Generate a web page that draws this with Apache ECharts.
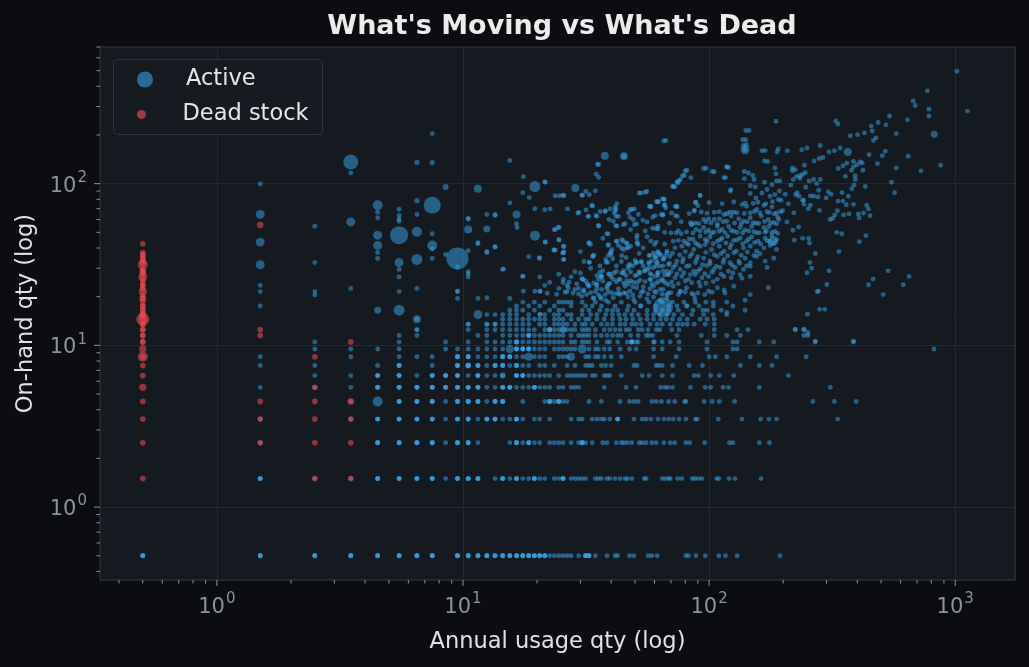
<!DOCTYPE html>
<html>
 <head>
  <meta charset="utf-8" />
  <title>What's Moving vs What's Dead</title>
  <script src="https://cdn.jsdelivr.net/npm/echarts@6/dist/echarts.min.js"></script>
  <style>
   html, body { margin: 0; padding: 0; background: #0b0d11; }
  </style>
 </head>
 <body>
  <div id="main" style="width: 1029px;height:667px;"></div>
  <script type="text/javascript">

    // axis extents (log scale, as in the source plot)
    var X_MIN = 0.335, X_MAX = 1750;
    var Y_MIN = 0.354, Y_MAX = 700;

    // quantised rows: on-hand qty and the usage values seen on each row
    var rowY = [0.5, 1.5, 2.5, 3.5, 4.5, 5.5, 6.5, 7.5, 8.5, 9.5, 10.5, 11.5, 12.5, 13.5, 14.5, 15.5, 16.5, 17.5, 18.5];
    var rowX = [
      [0.5,1.5,2.5,3.5,4.5,5.5,6.5,7.5,9.5,10.5,11.5,12.5,13.5,14.5,15.5,16.5,17.5,18.5,19.5,20.5,21.5,22.5,23.5,24.5,25.5,26.5,27.5,29.5,31.5,32.5,34.5,38.5,41.5,42.5,47.5,49.5,56.5,58.5,61.5,80.5,82.5,88.5,96.5,109.5,116.5,130,194],
      [1.5,2.5,3.5,4.5,5.5,6.5,7.5,8.5,9.5,10.5,11.5,13.5,14.5,15.5,16.5,17.5,18.5,19.5,20.5,21.5,23.5,24.5,25.5,27.5,28.5,29.5,30.5,31.5,34.5,35.5,36.5,38.5,39.5,41.5,43.5,45.5,46.5,48.5,54.5,55.5,64.5,66.5,68.5,69.5,74.5,77.5,85.5,87.5,90.5,93.5,107.5,109.5,120.5,127.5,162.5],
      [1.5,4.5,5.5,6.5,7.5,8.5,9.5,10.5,11.5,15.5,16.5,17.5,18.5,19.5,20.5,22.5,23.5,24.5,25.5,27.5,29.5,30.5,31.5,33.5,37,38.5,42,44,45,46.5,48.5,52,53.5,55.5,58.5,61,65.5,69.5,72.5,80.5,83.5,96,121,125,160,176],
      [1.5,3.5,4.5,5.5,6.5,7.5,8.5,9.5,10.5,11.5,12.5,13.5,14.5,15.5,16.5,17.5,19.5,20.5,22.5,27.5,29.5,30.5,33.5,35,36.5,37.5,39.5,42.5,49.5,53.5,55.5,58,62,65.5,68.5,71.5,75.5,80.5,88,89.5,109,136,162,175,188,333],
      [3.5,5.5,6.5,7.5,8.5,9.5,10.5,11.5,12.5,13.5,14.5,17.5,21.5,22.5,23.5,24.5,25.5,26.5,32.5,36.5,43.5,47.5,49.5,51.5,58.5,61,64,68.5,72.5,79.5,80.5,95.5,103,110,127,264,323,396],
      [1.5,2.5,3.5,4.5,5.5,6.5,7.5,8.5,9.5,10.5,11.5,12.5,13.5,14.5,15.5,16.5,17.5,18.5,19.5,20.5,21.5,22.5,24.5,25.5,27.5,28.5,29.5,37.5,46,50.5,63.5,66,68,71,84,96.5,101.5,114,120,160,311],
      [2.5,3.5,4.5,5.5,6.5,7.5,8.5,9.5,10.5,11.5,12.5,13.5,14.5,16.5,17.5,18.5,19.5,20.5,21.5,22.5,24.5,26.5,27.5,28.5,29.5,30.5,31.5,33.5,34.5,37.5,38.5,39.5,44,53.5,57,64.5,71,87,90.5,101.5,110,126,210],
      [1.5,2.5,4.5,5.5,7.5,9.5,10.5,11.5,12.5,13.5,14.5,15.5,16.5,17.5,18.5,20.5,21.5,23.5,26.5,28.5,31.5,32.5,33.5,36.5,38,40,49.5,51,61,62.5,64.5,71,83,94,134,160,180],
      [1.5,3.5,5.5,6.5,7.5,9.5,10.5,11.5,12.5,13.5,14.5,15.5,16.5,17.5,19.5,20.5,21.5,24.5,25.5,26.5,31.5,32.5,34.5,35.5,37.5,40,44,59.5,73.5,100,106,118,147,188,248],
      [2.5,3.5,4.5,5.5,8.5,9.5,10.5,11.5,12.5,13.5,14.5,16.5,17.5,18.5,19.5,20.5,21.5,23.5,24.5,25.5,26.5,27.5,28.5,32.5,34.5,35.5,37.5,39.5,43.5,47.5,50.5,59.5,64.5,75.5,98,125,130,820],
      [2.5,5.5,8.5,10.5,12.5,13.5,14.5,15.5,16.5,17.5,18.5,19.5,20.5,21.5,22.5,23.5,24.5,25.5,27.5,28.5,30.5,31.5,32.5,35,38.5,39.5,42.5,46.5,48.5,48.5,50.5,51.5,59.5,60,64.5,69.5,75.5,98,125,130,160,183,270,386],
      [5.5,6.5,11.5,12.5,14.5,15.5,16.5,17.5,18.5,19.5,20.5,21.5,22.5,23.5,24.5,25.5,27.5,29.5,30.5,31.5,32.5,34.5,36.5,38.5,40.5,42.5,44,48,51.5,55.5,57,59,74,93,105,118,134,243,252],
      [6.5,10.5,12.5,13.5,14.5,15.5,16.5,17.5,18.5,19.5,21.5,22.5,23.5,24.5,25.5,26.5,27.5,28.5,30.5,31.5,32.5,34.5,37.5,39.5,41.5,43.5,46,47.5,51.5,53.5,56.5,61,63,70.5,75.5,105,130,144,224,243],
      [10.5,12.5,13.5,14.5,15.5,16.5,17.5,18.5,20.5,21.5,23.5,24.5,25.5,26.5,28.5,30.5,31.5,33.5,36.5,38.5,40.5,43.5,45.5,48.5,50.5,53,57.5,61.5,64.5,69.5,74.5,78,81.5,87,96.5,105],
      [6.5,14.5,15.5,16.5,17.5,18.5,19.5,20.5,21.5,23.5,24.5,25.5,27.5,29.5,31.5,32.5,35,37.5,40.5,43.5,46,49,52.5,56,59.5,63.5,67,71,76,81.5,92,98,105],
      [14.5,15.5,16.5,18.5,20.5,21.5,23.5,24.5,26.5,27.5,30.5,33,35,38,40.5,43,45.5,48.5,51.5,56,59.5,63,67.5,72,78,85,95,104,118],
      [15.5,17.5,19.5,22.5,24.5,25.5,30.5,32.5,36,38.5,40.5,42.5,46.5,49.5,56,60.5,64.5,68.5,75,86,98,112,140],
      [16.5,18.5,20.5,23.5,27.5,31.5,33.5,36.5,41.5,47,52.5,53,60.5,68.5,74,81,91,104,125],
      [17.5,19.5,21.5,24.5,25.5,26.5,27.5,30.5,34.5,39,44,50,57,64.5,71,79,88,97,118]
    ];

    // positions holding several active items (drawn brighter); each entry is one more item
    var activeStacked = [
      [0.5,0.5],[1.5,0.5],[2.5,0.5],[3.5,0.5],[4.5,0.5],[5.5,0.5],[6.5,0.5],[7.5,0.5],[9.5,0.5],[10.5,0.5],[11.5,0.5],[12.5,0.5],[13.5,0.5],
      [14.5,0.5],[15.5,0.5],[16.5,0.5],[17.5,0.5],[18.5,0.5],[19.5,0.5],[20.5,0.5],[21.5,0.5],[31.5,0.5],[32.5,0.5],
      [1.5,1.5],[4.5,1.5],[5.5,1.5],[6.5,1.5],[7.5,1.5],[9.5,1.5],[10.5,1.5],[11.5,1.5],[14.5,1.5],[16.5,1.5],[19.5,1.5],[25.5,1.5],
      [4.5,2.5],[5.5,2.5],[6.5,2.5],[7.5,2.5],[9.5,2.5],[10.5,2.5],[16.5,2.5],[18.5,2.5],[30.5,2.5],
      [4.5,3.5],[5.5,3.5],[6.5,3.5],[7.5,3.5],[9.5,3.5],[10.5,3.5],[12.5,3.5],[13.5,3.5],[16.5,3.5],[42.5,3.5],
      [5.5,4.5],[6.5,4.5],[7.5,4.5],[9.5,4.5],[10.5,4.5],[11.5,4.5],[13.5,4.5],[14.5,4.5],[22.5,4.5],[24.5,4.5],
      [4.5,5.5],[5.5,5.5],[6.5,5.5],[7.5,5.5],[8.5,5.5],[9.5,5.5],[10.5,5.5],[11.5,5.5],[14.5,5.5],[15.5,5.5],[19.5,5.5],
      [4.5,6.5],[5.5,6.5],[7.5,6.5],[8.5,6.5],[9.5,6.5],[11.5,6.5],[16.5,6.5],[17.5,6.5],
      [5.5,7.5],[9.5,7.5],[10.5,7.5],[11.5,7.5],[13.5,7.5],[14.5,7.5],[16.5,7.5],
      [9.5,8.5],[10.5,8.5],[14.5,8.5],[15.5,8.5],[16.5,9.5],[17.5,9.5],[18.5,9.5],[48.5,10.5],[16.5,10.5],[18.5,11.5],[22.5,12.5]
    ];
    var stackDepth = 3;

    // active items above the rows: [usage, on-hand]
    var activeLeft = [
      [1.5,99.5],[1.5,23.5],[1.5,21.5],[1.5,17.5],[2.5,54.5],[2.5,32.5],[2.5,21.5],[2.5,20.5],
      [3.5,116.5],[3.5,22.5],[4.5,66.5],[4.5,61.5],[4.5,37.5],[4.5,34.5],
      [5.5,69.5],[5.5,63.5],[5.5,60.5],[5.5,58.5],[5.5,29.5],[5.5,26.5],[5.5,21.5],
      [6.5,64.5],[6.5,22.5],[6.5,12.5],[7.5,204],[7.5,49],[7.5,39.5],[7.5,34.5],[8.5,36.5],
      [9.5,30.5],[9.5,21.5],[9.5,19.5],[10.5,60.5],[10.5,38.5],[10.5,28.5],[10.5,26.5],[10.5,13.5],
      [11.5,42.5],[11.5,19.5],[12.5,64.5],[12.5,37.5],[12.5,15.5],[12.5,13.5],
      [13.5,64.5],[13.5,40.5],[13.5,15.5],[13.5,13.5],[14.5,29.5],[15.5,76],[15.5,19.5],[16.5,56.5],[16.5,16.5]
    ];

    var activeMid = [
      [15.5,139],[17.6,110.5],[21.6,102],[17.5,88],[18.6,82],[19.6,70],[21.5,69],[22.6,69.8],[23.7,84.2],[24.7,84.2],
      [25.7,84.2],[26.6,69.8],[30.6,84.7],[31.6,89.4],[32.6,85.3],[34.5,90.3],[34.8,114.5],[35.6,109.3],[35.6,131.5],
      [33.6,72.7],[35,62.8],[32.4,62.8],[31.6,68.8],[29.6,66.3],[10.5,60.9],[13.5,63.5],[16.6,53.5],[21.6,43.6],
      [20.5,34.6],[18.5,35.4],[17.5,26.7],[14.6,29.7],[13.5,40.9],[12.5,37.9],[11.5,43.1],[10.5,27.7],[9.5,21.6],
      [12.5,19.7],[17.6,21.6],[20.6,15.6],[20.5,21.6],[23.7,52.1],[24.6,53.5],[24.6,44.8],[25.7,40.9],[25.7,37.9],
      [25.7,34],[30.6,25.6],[33.6,35.4],[32.6,32.7],[36.6,26.7],[38.9,48.9],[38.9,41.5],[39.2,60],[40.3,39.2],
      [41.6,67.9],[42.2,75.3],[41.8,70],[41.8,55],[40,36.5],[38.2,32.6],[37.9,68.1],[35.6,54.7],[34.7,63.4],[32.2,62.8],
      [23.5,52],[24.4,53.8],[25.4,37.3],[23.5,39.1],[32.4,43],[35.5,55.1],[38.4,49.1],[42.2,44],[44.2,45.1],
      [46,43],[46.3,40.1],[50.8,46.2],[51.1,42.6],[41.2,65.9],[42.8,62.8],[45.6,56.6],[47,65.9],[48.6,69.2],[49.2,60],
      [50.8,56.4],[29.3,65.9],[33.4,73.2],[36.1,67.2],[21.5,102.6],[25.5,84.7],[30.4,84.7],[35.2,132],
      [17.5,26.8],[20.4,34.8],[23.4,38.7],[30.4,25.8],[34.9,23.7],[36.3,26.6],[19.6,21.6],[26.5,21.5],
      [29.5,22.5],[21.5,23.5],[25.5,24.5],[27.5,26.5],[24.5,22.5],[32.5,23.5],[34.5,21.5],[35.5,25.5],[36.5,19.5],
      [38.5,22.5],[39.5,27.5],[20.5,26.5],[22.5,24.5],[24.5,27.5],[26.5,23.5],[28.5,28.5],[76.5,21.5],[81.5,17.5],
      [87.5,19.5],[94.5,16.5],[104,18.5],[115,22],[118,16],[136,26],[140,19],[45.1,147.6],[65.4,184],[66.8,185]
    ];

    // dense core
    var activeCore = [
      [21.6,43.5],[24.5,45.1],[25.6,41],[23.7,38.8],[32.6,43],[39,42],[42.8,41.5],[44.7,44],[46.5,42.6],[46.9,40.1],
      [51.5,42],[25.6,37.3],[33.8,35.8],[39.6,37.3],[44.2,35.8],[40.6,34.3],[25.6,34],[32.6,32.6],[38.7,32.6],[47.7,31.6],
      [50.8,32.6],[53.2,32.6],[56.8,32.6],[60.4,35.8],[63.2,36.5],[67.4,37.3],[61.8,32.4],[65.5,34.3],[68.3,31.6],
      [36.6,26.7],[30.8,25.6],[44.2,28],[46,27],[52.4,28],[55.8,29.5],[58.3,27.4],[61.8,28],[65,28.7],[68.3,27.4],
      [25.6,25.6],[40.8,25.6],[43.5,25.6],[46.3,25],[49.3,24.6],[52.4,25.3],[57.5,25.6],[61,24.3],[65,25],[68.3,23.8],
      [26.8,22.7],[28.5,22.2],[30.8,21.6],[32.4,23.2],[35,23.8],[36.6,22.2],[38.5,23.2],[40.3,21.1],[42.8,22.4],[45.6,23.2],
      [47.7,21.6],[50.8,22.7],[54,21.6],[57.5,22.4],[61,21.3],[65,22.2],[68.3,21.1],[20.6,21.6],[28,21.1],[30.4,20.1],
      [31.8,20.6],[33.8,19.7],[36.1,19.9],[37.8,20.6],[40.8,19.7],[43.5,20.6],[46.9,19.9],[49.3,19.2],[52.4,20.1],
      [55.8,19.4],[59.4,19.9],[63.2,19],[67.4,19.7],
      [72.5,95.5],[75.5,104],[122,90],[147,97],[154,95.5],[168,102],[180,98.5],[188,104],
      [62,77.5],[65.5,80.5],[66,74.2],[92,84.6],[88,76.5],[147,87],[155,81.5],[164,87.5],[172,92],[177,83.5],[185,85.6],[191,79.7],
      [58,72.5],[74,72.5],[87,67.7],[105,66.5],[115,64.4],[121.6,66.5],[130,66],[136,74.2],[142,72.5],[147,66],[151,75.5],
      [156,69.2],[167,73.5],[172,67],[180,71.8],[188,66],
      [65,64.4],[73,63.4],[88,57],[95,60],[99.5,60.6],[105,60],[110,60.6],[118,58.5],[123,63],[132,60.6],[138,58.5],
      [147,61.6],[155,57],[163,63],[174,60],[183,57.6],[192,60],
      [62,52.6],[70,49.6],[73.5,49.6],[77,49],[88.5,52.1],[95,53.6],[99.5,51.6],[104.5,50.1],[108,54.3],[113,52.1],
      [120,54.3],[126,50.7],[133.7,53.6],[140,51.6],[149,54.3],[156,49.6],[167,53.6],[175,54.3],[185,50.7],
      [71.5,44],[79,44],[83,45.5],[88,43],[92,47.3],[96.4,45.1],[100.8,46.8],[108,44],[113,46],[119,47.3],[126,44.6],
      [133.7,46],[142,44],[149,46.8],[158,44],[169,46],[180,47.6],[188,45.1],
      [59.4,37.3],[63.2,36.5],[67.4,38.2],[72.7,40.1],[77.5,41],[82.5,42],[86.6,39.2],[92,41],[96.4,42],[102.5,39.2],
      [110,41],[115,38.2],[121.6,40.1],[129,38.2],[138,40.1],[147,41],[156,38.2],[167,40.1],[177,41.5],[188,39.2],
      [58.3,33.2],[61,34.6],[65,34],[69.3,35.5],[74,33.2],[78.5,34.3],[83.6,35.5],[89,34],[95,34.6],[100.8,33.2],
      [108,35.5],[115,34],[121.6,32.4],[132,33.2],[140,34.6],[147,32.4],[156,35.5],[169,33.2],[183,34.6],
      [59.4,30.3],[63.2,30.8],[67.4,28.7],[71.5,30.3],[76.2,29.5],[81,30.8],[86.6,28.7],[92,29.7],[97.8,31.2],[104.5,29.5],
      [110.8,30.3],[120,28.7],[127.5,30.3],[138,29.5],[147,30.8],[172,30.3],
      [60.4,26.7],[64.4,25.6],[68.3,27.4],[72.7,26.2],[77.5,26.7],[82.5,25.6],[87.8,27.4],[93.5,26.2],[99.5,26.7],
      [108,25.6],[115,26.7],[123,26.2],[133.7,27.4],[147,26.7],
      [59.4,23.2],[63.2,22.2],[67.4,20.6],[71.5,23.2],[76.2,21.6],[81,22.7],[86.6,20.6],[92,23.2],[99.5,21.6],[108,22.7],
      [116,21.1],[126,23.2],[147,20.6],[174,22.7]
    ];

    // further items filling the core band between the ones above
    var activeCoreFill = [
      [61,43.5],[66,42.2],[75,44.6],[81,42.8],[86,45.3],[90,42],[98,44],[104,42.5],[111,45],[117,43],[123,42],[130,44.8],
      [137,42.6],[145,45.5],[153,43.2],[162,42.4],[172,44.3],[183,42.9],
      [57.5,36],[62,37.5],[66,35.6],[71,37.1],[76,36.2],[80,38],[85,36.8],[90,35.4],[97,37.6],[105,36.3],[112,37],
      [119,35.8],[126,37.4],[135,36.1],[143,37.8],[152,35.9],[161,36.9],
      [47,31.2],[50.5,32.3],[54,30.9],[57,31.8],[61,32.6],[65,31],[69,32.1],[73,31.4],[78,32.8],[83,31.1],[88,32.4],
      [94,31.5],[101,32],[107,30.8],[114,32.5],[124,31.3],[133,32.2],[142,31],
      [36,28.3],[39,27.6],[42,28.6],[45,27.9],[48,28.4],[51,27.3],[54.5,28.8],[57.5,27.8],[62,28.2],[66,27.2],[70,28.5],
      [74,27.6],[79,28.1],[84,27.4],[90,28.7],[96,27.7],[103,28.3],[112,27.5],[125,28],
      [27,24.6],[29,24],[31.5,24.9],[34,24.3],[37,25],[39.5,24.1],[42,24.7],[45,24.2],[48,25.1],[51,24.4],[55,24.8],
      [58.5,24],[62.5,24.9],[66.5,24.3],[70.5,24.7],[75,24.1],[80,25],[85,24.4],[91,24.6],[97,24.2],[104,24.8],
      [22,21],[24,20.7],[26,21.3],[29.5,20.8],[33,21.2],[35.5,20.6],[39,21.4],[42,20.9],[45,21.1],[49,20.5],[53,21.3],
      [56.5,20.8],[60,21.5],[64.5,20.7],[70,21.2],[75,20.6],[80,21.4],[85,20.9],[90,21.1],[96,20.6],[103,21.3],
      [66,50],[75,51.2],[81,50.3],[86,49.6],[92,51],[97,50.2],[102,49.4],[110,50.8],[116,49.8],[123,51.3],[130,50.1],
      [137,49.5],[145,51],[152,50.4],[160,49.7],[171,51.1],[180,50],[190,49.3],
      [69,57],[77,58.2],[84,57.4],[91,56.6],[97,58],[102,57.2],[108,56.4],[114,58.4],[127,57.1],[135,56.5],[143,58.1],
      [151,57.3],[159,56.7],[168,58.3],[178,57],[188,56.4],
      [83,65.3],[93,66.8],[98,65.6],[110,67],[118,65.1],[126,66.6],[139,65.4],[153,67.2],[161,65.8],[176,66.4],[184,65],[195,67],
      [100,76.3],[113,75.2],[126,77],[140,75.6],[158,76.8],[170,75],[181,77.4]
    ];

    var activeBand = [
      [30,28],[31,33],[32,24],[33,30],[34,36],[35,27],[36,31],[31,22],[34,19.5],[30,38],[33,42],[35,22.5],
      [37,29],[38,34],[39,24],[40,38],[41,28],[42,44],[43,21],[44,33],[38,19],[40,26.5],[42,31],[44,40],[37,46],[39,36],[43,25.5],
      [45,29],[46,35],[47,24],[48,41],[49,31],[50,27],[51,48],[52,37],[46,21],[48,52],[50,33.5],[45,39],[47,30],[49,23],[51,43.5],[52,28.5],
      [53,33],[54,40],[55,29],[56,47],[57,36],[58,25.5],[59,53],[60,42],[61,31],[62,38],[54,23],[56,58],[58,44],[60,35],[62,27],[55,51],[57,30],[59,62],
      [204,86],[210,75],[215,98],[221,66],[228,88],[234,112],[240,79],[247,95],[253,70],[258,84],[207,58],[218,120],[231,54],[244,130],[255,104],
      [196,79],[199,68],[193,90],[190,62],[187,115],[185,125],[194,104],[176,44],[169,50],
      [37.8,67.2],[39.6,69.8],[41.5,71.8],[41.9,62.8],[47.8,69.2],[49.7,69.8],[47.8,61.9],[49.7,55.8],[51.6,64.4],[53.8,59.4],[44.8,55.8],[40.8,58.5],[42.2,54.6],
      [52.9,87.6],[55.8,89.4],[57.9,71.8],[62.2,77.1],[65.8,79.7],[65.8,73.2],[73.9,71.8],[88.3,76.7],[91.9,84.4],[87.1,68.4],[74.3,62.8],[64.9,63.8],
      [81.2,121],[79.4,112.5],[84.3,109],[76.4,106],[74.6,101],[71.8,96.2],[61,77.3],[64.6,80.5],[55,88.4],[52,87.5],[57.2,72.4],[61,52.7],[61.9,54.5],
      [60.3,63.4],[63.8,64.3],[66.7,70.8],[70.3,65.9],[72.9,72.4],[90,73.1],[85.5,56.4],[84.7,55.6],
      [97.2,124.5],[105,118.6],[120,126],[115,109],[116.5,109],[122.5,91.8],[139,119],[144.5,116.5],[150.5,112.5],[152.4,106],[139,107.5],[118,127],[103,119],[95,124]
    ];

    var activeRight = [
      [1016,496],[1122,281],[771,375],[675,325],[688,304],[782,289],[782,262],[640,248],[541,262],[576,204],[523,231],[486,239],
      [456,227],[460,212],[428,206],[401,201],[375,198],[477,192],[465,185],[520,159],[506,149],[447,151],[644,148],[483,133],
      [576,125],[726,120],[872,130],[551,102],[567,88],[341,166],[323,160],[307,157],[290,145],[280,143],[267,138],[327,244],
      [334,234],[283,172],[363,134],[350,129],[335,124],[386,137],[399,131],[411,136],[419,134],[386,127],[379,121],[422,121],
      [358,111],[392,112],[393,106],[388,98],[380,93],[368,83.5],[350,78],[431,96],[437,73.5],[444,69.8],[451,63.4],[424,65.9],
      [404,65],[407,61.4],[434,47.7],[408,43.8],[334,78],[347,88],[361,74],[386,74.5],[370,65],[330,50],[346,49],[337,38],
      [307,28.9],[301,23.8],[278,21.6],[295,16.7],[281,16.7],[464,25.7],[444,23.7],[534,28.9],[650,26.7],[615,23.7],[510,20.6],
      [275,21.5],[251,15.6],[250,28.1],[261,30],[257,32.5],[270,37],[256,43],[254,45.8],[240,45.9],[219,51.5],[222,44.7],
      [318,61],[310,60],[324,64],[332,68],[352,64],[281,68.4],[277,82.8],[279,91],[266,83.5],[258,73.5],[243,74.5],[242,78.9],
      [232,83.5],[225,85.3],[305,89],[313,86],[299,81.6],[283,106],[274,100],[266,106],[220,106],[227,111],[234,108],[240,114],
      [246,117],[224,122],[218,125],[238,162],[250,166],[208,160],[191,164],[189,157],[168,138],[164,160],[187,243],[141,213],
      [137,187],[138,172],[140,162],[141,187],[142,174],[145.5,213],[169,160],[173,137],[118,127],[80,120],[78,112],[74,103],[71,96],
      [252,12],[243,12.6],[224,12.6],[270,10.6],[386,10.6]
    ];

    // bubbles: [usage, on-hand, stock value]
    var activeBig = [
      [3.5,136,5600],[3.5,58,2000],[1.5,64.5,2000],[1.5,43.5,2000],[1.5,31.5,2000],
      [4.5,73.5,2500],[4.5,48,2000],[4.5,41.5,2000],[4.5,16.5,1200],[4.5,4.5,2500],
      [5.5,48,8100],[5.5,32.5,2000],[5.5,16.5,3000],[6.5,50.5,2500],[6.5,34,3000],
      [7.5,73.5,7200],[7.5,41.5,2500],[9.5,34.5,12100],[10.5,52,1600],[11.5,15.5,2000],
      [11.5,93,1600],[12.5,52.5,1200],[16.5,64.5,1600],[19.6,96,3000],[28.6,94,1600],
      [19.6,47.7,2500],[37.7,149,1600],[45.1,147.6,1600],[140,162,2000],[366,157,1600],
      [822,202,1200],[65,17.2,10000],[182,44,2500],[30.5,9.5,2000],[15.5,9.5,1600],
      [18.5,8.5,1600],[27.5,8.5,1600],[14.5,6.5,900],[10.5,7.5,900],[25.5,12.5,1200],
      [8.5,95.5,900],[6.5,78.5,700],[6.5,14.5,1600],[6.5,135.5,700],[7.5,135,700]
    ];

    var deadStock = [
      [0.5,1.5],[0.5,2.5],[0.5,3.5],[0.5,4.5],[0.5,5.5,1300],[0.5,6.5],[0.5,7.5],[0.5,8.5,2500],[0.5,8.5],[0.5,9.5,1300],
      [0.5,10.5],[0.5,11.5],[0.5,12.5],[0.5,13.5],[0.5,14.5,4225],[0.5,14.5,1600],[0.5,15.5],[0.5,16.5],[0.5,17.5],
      [0.5,18.5],[0.5,19.5],[0.5,20.5],[0.5,21.5,1600],[0.5,22.5],[0.5,23.5],[0.5,24.5],[0.5,25.5],[0.5,26.5,2000],
      [0.5,27.5],[0.5,28.5],[0.5,29.5],[0.5,31.5,2500],[0.5,32.5,1200],[0.5,33.5],[0.5,34.5],[0.5,35.5],[0.5,37.5],
      [0.5,42.5],[0.5,13.5],[0.5,12.5],[0.5,16.5],[0.5,11.5],[0.5,15.5,1300],[0.5,17.5],[0.5,19.5,1200],[0.5,23.5],
      [0.5,28.5,1200],[0.5,36.5],[0.5,10.5],
      [1.5,55.5,1100],[1.5,12.5],[1.5,11.5],[1.5,4.5],[1.5,3.5],[1.5,2.5],
      [2.5,8.5],[2.5,5.5],[2.5,4.5],[2.5,3.5],[2.5,2.5],[2.5,1.5],
      [3.5,10.5],[3.5,4.5,1100],[3.5,3.5],[3.5,2.5],[3.5,1.5]
    ];

    var xMajor = [1, 10, 100, 1000];
    var xMinor = [0.4,0.5,0.6,0.7,0.8,0.9,2,3,4,5,6,7,8,9,20,30,40,50,60,70,80,90,200,300,400,500,600,700,800,900];
    var yMajor = [1, 10, 100];
    var yMinor = [0.4,0.5,0.6,0.7,0.8,0.9,2,3,4,5,6,7,8,9,20,30,40,50,60,70,80,90,200,300,400,500,600,700];

    var activeData = [];
    rowY.forEach(function (y, i) {
        rowX[i].forEach(function (x) { activeData.push([x, y]); });
    });
    for (var k = 0; k < stackDepth; k++) activeData = activeData.concat(activeStacked);
    activeData = activeData.concat(activeLeft, activeMid, activeCore, activeCoreFill, activeBand, activeRight, activeBig);

    var xTicks = xMajor.map(function (v) { return [v, 2]; }).concat(xMinor.map(function (v) { return [v, 1]; }));
    var yTicks = yMajor.map(function (v) { return [2, v]; }).concat(yMinor.map(function (v) { return [1, v]; }));

    function sizeFrom(base) {
        return function (val) { return Math.sqrt(val[2] || base) / 5; };
    }

    var tickColor = '#8d939b';
    function powLabel(v) {
        var e = Math.log10(v), r = Math.round(e);
        if (Math.abs(e - r) > 1e-6) return '';
        return '{b|10}{e|' + r + '}';
    }
    var powRich = {
        b: { fontSize: 21, color: tickColor, fontFamily: 'DejaVu Sans', lineHeight: 26, verticalAlign: 'bottom' },
        e: { fontSize: 15, color: tickColor, fontFamily: 'DejaVu Sans', lineHeight: 15, verticalAlign: 'top', padding: [0, 0, 0, 1] }
    };

    var myChart = echarts.init(document.getElementById('main'), null, { renderer: 'canvas' });

    myChart.setOption({
        backgroundColor: '#0b0d11',
        animation: false,
        title: {
            text: "What's Moving vs What's Dead",
            left: 557, top: 6, textAlign: 'center',
            textStyle: { color: '#ececec', fontSize: 27, fontWeight: 'bold', fontFamily: 'DejaVu Sans', lineHeight: 32 }
        },
        graphic: [{
            type: 'rect', left: 113, top: 59, z: 5,
            shape: { width: 209, height: 75, r: 4 },
            style: { fill: '#161b22', stroke: '#2e343c', lineWidth: 1 }
        }],
        legend: [{
            data: [{ name: 'Active', icon: 'circle', itemStyle: { color: '#2b6a92', opacity: 1 } }],
            left: 137, top: 68, padding: 0, itemWidth: 16, itemHeight: 16, z: 6,
            textStyle: { color: '#e6e6e6', fontSize: 22.5, fontFamily: 'DejaVu Sans', padding: [0, 0, 0, 28] }
        }, {
            data: [{ name: 'Dead stock', icon: 'circle', itemStyle: { color: '#a13a40', opacity: 1 } }],
            left: 137, top: 103, padding: 0, itemWidth: 16, itemHeight: 9, z: 6,
            textStyle: { color: '#e6e6e6', fontSize: 22.5, fontFamily: 'DejaVu Sans', padding: [0, 0, 0, 28] }
        }],
        grid: {
            left: 100, right: 14, top: 47, bottom: 87,
            show: true, backgroundColor: '#151a21', borderColor: '#30363e', borderWidth: 1
        },
        xAxis: {
            type: 'log', logBase: 10, min: X_MIN, max: X_MAX,
            name: 'Annual usage qty (log)', nameLocation: 'middle', nameGap: 51,
            nameTextStyle: { color: '#e2e2e2', fontSize: 22.5, fontFamily: 'DejaVu Sans' },
            axisLine: { show: false }, axisTick: { show: false },
            axisLabel: { margin: 12, formatter: powLabel, rich: powRich, showMinLabel: false, showMaxLabel: false },
            splitLine: { show: true, lineStyle: { color: '#232931', width: 1 } }
        },
        yAxis: {
            type: 'log', logBase: 10, min: Y_MIN, max: Y_MAX,
            name: 'On-hand qty (log)', nameLocation: 'middle', nameGap: 62, nameRotate: 90,
            nameTextStyle: { color: '#e2e2e2', fontSize: 22.5, fontFamily: 'DejaVu Sans' },
            axisLine: { show: false }, axisTick: { show: false },
            axisLabel: { margin: 13, formatter: powLabel, rich: powRich, showMinLabel: false, showMaxLabel: false },
            splitLine: { show: true, lineStyle: { color: '#232931', width: 1 } }
        },
        series: [{
            name: 'Active',
            type: 'scatter',
            data: activeData,
            symbolSize: sizeFrom(600),
            progressive: 0,
            itemStyle: { color: 'rgba(58,160,224,0.66)' },
            z: 2
        }, {
            name: 'Dead stock',
            type: 'scatter',
            data: deadStock,
            symbolSize: sizeFrom(800),
            progressive: 0,
            itemStyle: { color: 'rgba(236,74,80,0.72)' },
            z: 3
        }, {
            name: 'xTicks',
            type: 'custom',
            silent: true,
            z: 4,
            data: xTicks,
            renderItem: function (params, api) {
                var p = api.coord([api.value(0), Y_MIN]);
                var len = api.value(1) > 1 ? 6 : 3.5;
                return { type: 'line', shape: { x1: p[0], y1: p[1], x2: p[0], y2: p[1] + len },
                         style: { stroke: tickColor, lineWidth: 1 } };
            }
        }, {
            name: 'yTicks',
            type: 'custom',
            silent: true,
            z: 4,
            data: yTicks,
            renderItem: function (params, api) {
                var p = api.coord([X_MIN, api.value(1)]);
                var len = api.value(0) > 1 ? 6 : 3.5;
                return { type: 'line', shape: { x1: p[0], y1: p[1], x2: p[0] - len, y2: p[1] },
                         style: { stroke: tickColor, lineWidth: 1 } };
            }
        }]
    });
</script>
 </body>
</html>
